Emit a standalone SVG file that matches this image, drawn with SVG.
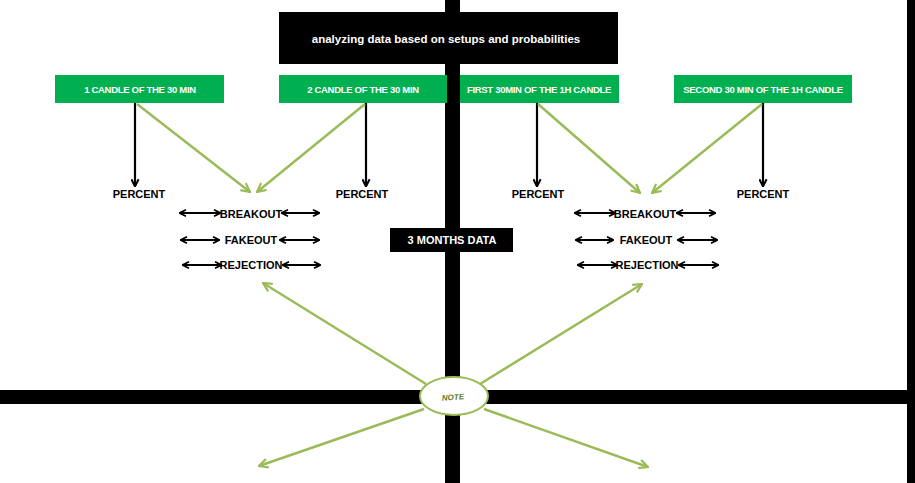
<svg xmlns="http://www.w3.org/2000/svg" width="915" height="483" viewBox="0 0 915 483">
<defs>
<marker id="bk" viewBox="0 0 10 10" refX="8.5" refY="5" markerWidth="8" markerHeight="8" orient="auto-start-reverse" markerUnits="userSpaceOnUse">
<path d="M1,1 L9,5 L1,9" fill="none" stroke="#000" stroke-width="2.2"/>
</marker>
<marker id="bkd" viewBox="0 0 10 10" refX="8.5" refY="5" markerWidth="9" markerHeight="9" orient="auto" markerUnits="userSpaceOnUse">
<path d="M1,1 L9,5 L1,9" fill="none" stroke="#000" stroke-width="2.2"/>
</marker>
<marker id="gr" viewBox="0 0 10 10" refX="9" refY="5" markerWidth="11" markerHeight="11" orient="auto" markerUnits="userSpaceOnUse">
<path d="M1,1 L9,5 L1,9" fill="none" stroke="#9BBB59" stroke-width="2"/>
</marker>
</defs>
<style>
.bar{fill:#000}
.gbox{fill:#00B050}
.gt{font-family:"Liberation Sans",Arial,sans-serif;font-size:9.5px;font-weight:bold;fill:#fff;text-anchor:middle;letter-spacing:-0.3px}
.bt{font-family:"Liberation Sans",Arial,sans-serif;font-size:11px;font-weight:bold;fill:#000;text-anchor:middle}
.wt{font-family:"Liberation Sans",Arial,sans-serif;font-size:11px;font-weight:bold;fill:#fff;text-anchor:middle}
.ba{stroke:#000;stroke-width:2.2;fill:none}
.ga{stroke:#9BBB59;stroke-width:2.5;fill:none}
</style>
<rect width="915" height="483" fill="#fff"/>
<g id="frame">
<rect class="bar" x="445" y="0" width="15" height="483"/>
<rect class="bar" x="0" y="390" width="907" height="14"/>
<rect class="bar" x="907" y="0" width="8" height="483"/>
</g>
<g id="title">
<rect class="bar" x="279" y="12" width="339" height="52"/>
<text class="wt" x="446" y="43" style="font-size:11.5px">analyzing data based on setups and probabilities</text>
</g>
<g id="box1"><rect class="gbox" x="55" y="75" width="169" height="28"/><text class="gt" x="140" y="93">1 CANDLE OF THE 30 MIN</text></g>
<g id="box2"><rect class="gbox" x="279" y="75" width="168" height="28"/><text class="gt" x="363" y="93">2 CANDLE OF THE 30 MIN</text></g>
<g id="box3"><rect class="gbox" x="460" y="75" width="159" height="28"/><text class="gt" x="539" y="93">FIRST 30MIN OF THE 1H CANDLE</text></g>
<g id="box4"><rect class="gbox" x="674" y="75" width="178" height="28"/><text class="gt" x="763" y="93">SECOND 30 MIN OF THE 1H CANDLE</text></g>
<g id="months"><rect class="bar" x="390" y="228" width="123" height="24"/><text class="wt" x="452" y="244">3 MONTHS DATA</text></g>
<g id="labels">
<text class="bt" x="139" y="198">PERCENT</text>
<text class="bt" x="362" y="198">PERCENT</text>
<text class="bt" x="538" y="198">PERCENT</text>
<text class="bt" x="763" y="198">PERCENT</text>
<text class="bt" x="251" y="218">BREAKOUT</text>
<text class="bt" x="251" y="244">FAKEOUT</text>
<text class="bt" x="251" y="269">REJECTION</text>
<text class="bt" x="645" y="218">BREAKOUT</text>
<text class="bt" x="646" y="244">FAKEOUT</text>
<text class="bt" x="647" y="269">REJECTION</text>
</g>
<g id="note">
<ellipse cx="454" cy="396" rx="34" ry="19" fill="#fff" stroke="#9BBB59" stroke-width="2"/>
<text x="453" y="400" transform="rotate(-4 453 397)" style="font-family:'Liberation Sans',Arial,sans-serif;font-size:8px;font-weight:bold;font-style:italic;fill:#5E7A2A;text-anchor:middle">NOTE</text>
</g>
<g id="connectors">
<line class="ba" x1="135" y1="103" x2="135" y2="186" marker-end="url(#bkd)"/>
<line class="ba" x1="366" y1="103" x2="366" y2="186" marker-end="url(#bkd)"/>
<line class="ba" x1="537" y1="103" x2="537" y2="186" marker-end="url(#bkd)"/>
<line class="ba" x1="763" y1="103" x2="763" y2="186" marker-end="url(#bkd)"/>
<line class="ga" x1="137" y1="104" x2="250" y2="192" marker-end="url(#gr)"/>
<line class="ga" x1="365" y1="104" x2="257" y2="192" marker-end="url(#gr)"/>
<line class="ga" x1="538" y1="104" x2="640" y2="193" marker-end="url(#gr)"/>
<line class="ga" x1="762" y1="104" x2="652" y2="193" marker-end="url(#gr)"/>
<line class="ba" x1="180" y1="213" x2="220" y2="213" marker-start="url(#bk)" marker-end="url(#bk)"/>
<line class="ba" x1="282" y1="213" x2="319" y2="213" marker-start="url(#bk)" marker-end="url(#bk)"/>
<line class="ba" x1="181" y1="240" x2="219" y2="240" marker-start="url(#bk)" marker-end="url(#bk)"/>
<line class="ba" x1="280" y1="240" x2="319" y2="240" marker-start="url(#bk)" marker-end="url(#bk)"/>
<line class="ba" x1="183" y1="265" x2="221" y2="265" marker-start="url(#bk)" marker-end="url(#bk)"/>
<line class="ba" x1="283" y1="265" x2="320" y2="265" marker-start="url(#bk)" marker-end="url(#bk)"/>
<line class="ba" x1="575" y1="213" x2="615" y2="213" marker-start="url(#bk)" marker-end="url(#bk)"/>
<line class="ba" x1="677" y1="213" x2="715" y2="213" marker-start="url(#bk)" marker-end="url(#bk)"/>
<line class="ba" x1="576" y1="240" x2="613" y2="240" marker-start="url(#bk)" marker-end="url(#bk)"/>
<line class="ba" x1="678" y1="240" x2="717" y2="240" marker-start="url(#bk)" marker-end="url(#bk)"/>
<line class="ba" x1="578" y1="265" x2="617" y2="265" marker-start="url(#bk)" marker-end="url(#bk)"/>
<line class="ba" x1="679" y1="265" x2="718" y2="265" marker-start="url(#bk)" marker-end="url(#bk)"/>
<line class="ga" x1="426" y1="384" x2="263" y2="283" marker-end="url(#gr)"/>
<line class="ga" x1="480" y1="384" x2="642" y2="284" marker-end="url(#gr)"/>
<line class="ga" x1="424" y1="409" x2="259" y2="466" marker-end="url(#gr)"/>
<line class="ga" x1="484" y1="409" x2="648" y2="467" marker-end="url(#gr)"/>
</g>
</svg>
